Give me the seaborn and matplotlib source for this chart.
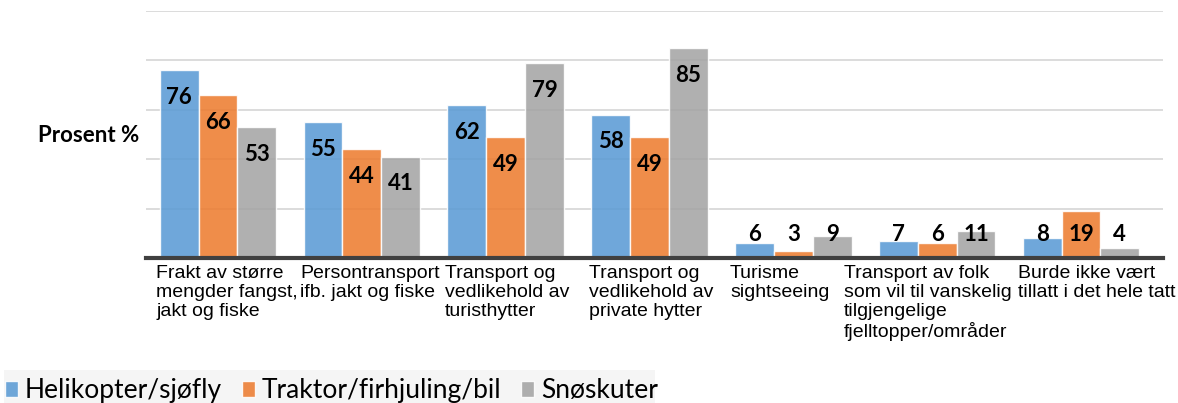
import numpy as np
import pandas as pd
import matplotlib.pyplot as plt
import matplotlib.transforms as mtransforms
from matplotlib.patches import Patch, Rectangle
import seaborn as sns

# data
categories = [
    'Frakt av større\nmengder fangst,\njakt og fiske',
    'Persontransport\nifb. jakt og fiske',
    'Transport og\nvedlikehold av\nturisthytter',
    'Transport og\nvedlikehold av\nprivate hytter',
    'Turisme\nsightseeing',
    'Transport av folk\nsom vil til vanskelig\ntilgjengelige\nfjelltopper/områder',
    'Burde ikke vært\ntillatt i det hele tatt',
]
series = ['Helikopter/sjøfly', 'Traktor/firhjuling/bil', 'Snøskuter']
helikopter = [76, 55, 62, 58, 6, 7, 8]
traktor = [66, 44, 49, 49, 3, 6, 19]
snoskuter = [53, 41, 79, 85, 9, 11, 4]
colors = ['#5B9BD5', '#ED7D31', '#A5A5A5']

df = pd.DataFrame({
    'kategori': categories * 3,
    'transport': np.repeat(series, len(categories)),
    'prosent': helikopter + traktor + snoskuter,
})

sns.set_style('white')
plt.rcParams['font.family'] = ['Liberation Sans', 'DejaVu Sans']
plt.rcParams['text.color'] = 'black'

fig = plt.figure(figsize=(11.78, 4.03), dpi=100)
ax = fig.add_axes([146 / 1178, 1 - 258 / 403, (1163 - 146) / 1178, 247 / 403])

sns.barplot(data=df, x='kategori', y='prosent', hue='transport', palette=colors,
            saturation=1, width=0.81, alpha=0.88, edgecolor='white', linewidth=1,
            legend=False, ax=ax)

ax.set_ylim(0, 100)
ax.set_xlim(-0.5, len(categories) - 0.43)
ax.set_yticks(np.arange(0, 101, 20))
ax.set_yticklabels([])
ax.yaxis.grid(True, color='#d9d9d9', lw=1.3)
ax.set_axisbelow(True)
ax.tick_params(length=0)
ax.set_xticklabels([])
ax.set_xlabel('')
ax.set_ylabel('')
for s in ['top', 'left', 'right']:
    ax.spines[s].set_visible(False)
ax.spines['bottom'].set_color('#404040')
ax.spines['bottom'].set_linewidth(3)

# value labels
for j, vals in enumerate([helikopter, traktor, snoskuter]):
    for i, v in enumerate(vals):
        x = i + (j - 1) * 0.81 / 3
        ax.text(x, max(v - 11, 9.5), str(v), ha='center', va='center', color='black',
                fontsize=16, fontweight='bold', family=['Lato', 'DejaVu Sans'])

# category labels, left-aligned blocks
trans = mtransforms.blended_transform_factory(ax.transData, ax.transAxes)
label_shift = [-0.43, -0.43, -0.42, -0.42, -0.44, -0.65, -0.44]
for i, lab in enumerate(categories):
    ax.text(i + label_shift[i], -0.028, lab, transform=trans, ha='left', va='top',
            fontsize=14, linespacing=1.15, color='black')

fig.text(89 / 1178, 1 - 135 / 403, 'Prosent %', ha='center', va='center', fontsize=16,
         fontweight='bold', family=['Lato', 'DejaVu Sans'], color='black')

# legend
fig.patches.append(Rectangle((0.003, 0), 0.553, 0.082, transform=fig.transFigure,
                             facecolor='#f5f5f5', edgecolor='none', zorder=0))
handles = [Patch(facecolor=c, alpha=0.88) for c in colors]
fig.legend(handles, series, loc='lower left', bbox_to_anchor=(0.0, -0.014), ncol=3,
           frameon=False, borderaxespad=0, borderpad=0.2, labelcolor='black',
           handlelength=0.5, handleheight=0.5, handletextpad=0.25,
           columnspacing=0.75, prop={'family': ['Lato', 'DejaVu Sans'], 'size': 19})

fig.savefig('out.png', dpi=100)
